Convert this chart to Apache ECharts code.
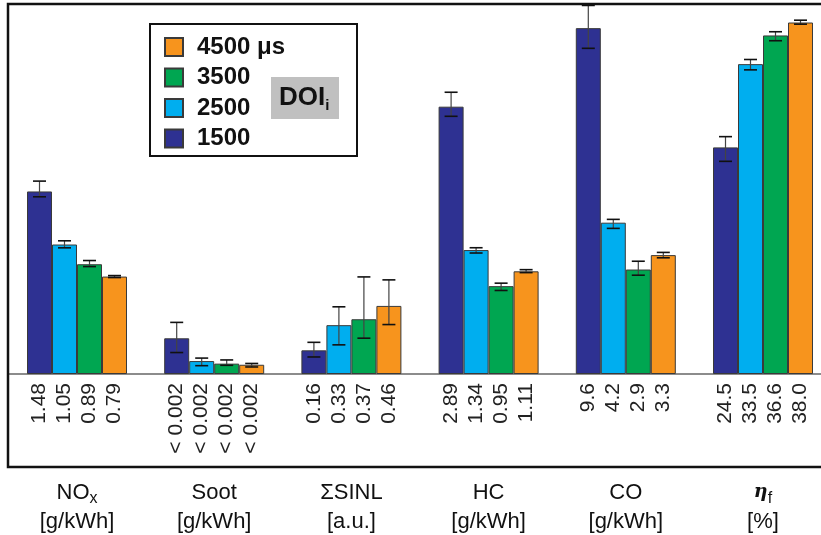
<!DOCTYPE html>
<html>
<head>
<meta charset="utf-8">
<script src="https://cdn.jsdelivr.net/npm/echarts@6/dist/echarts.min.js"></script>
<style>
  html, body { margin: 0; padding: 0; background: #fff; }
  #chart { width: 821px; height: 535px; }
</style>
</head>
<body>
<div id="chart"></div>
<script>
// groups on the x axis, each one has its own scale (value at top of plot)
const categories = ['NOx', 'Soot', 'SINL', 'HC', 'CO', 'eta'];
const groupScale = [3.0, 0.02, 2.5, 4.0, 10.27, 40];

// DOI series names (legend shown top to bottom in reverse)
const doiNames = ['1500', '2500', '3500', '4500 μs'];
const doiColours = ['#2e3192', '#00aeef', '#00a651', '#f7941d'];

// measured values per DOI
const doi1500 = [1.48, 0.00193, 0.16, 2.89, 9.6, 24.5];
const doi2500 = [1.05, 0.0007, 0.33, 1.34, 4.2, 33.5];
const doi3500 = [0.89, 0.00056, 0.37, 0.95, 2.9, 36.6];
const doi4500 = [0.79, 0.0005, 0.46, 1.11, 3.3, 38.0];

// printed value labels
const labels1500 = ['1.48', '< 0.002', '0.16', '2.89', '9.6', '24.5'];
const labels2500 = ['1.05', '< 0.002', '0.33', '1.34', '4.2', '33.5'];
const labels3500 = ['0.89', '< 0.002', '0.37', '0.95', '2.9', '36.6'];
const labels4500 = ['0.79', '< 0.002', '0.46', '1.11', '3.3', '38.0'];

// error bars, distance above / below the value
const err1500Up = [0.084, 0.00086, 0.054, 0.156, 0.63, 1.16];
const err1500Dn = [0.043, 0.00077, 0.045, 0.104, 0.56, 1.51];
const err2500Up = [0.03, 0.00016, 0.124, 0.025, 0.092, 0.5];
const err2500Dn = [0.027, 0.00025, 0.133, 0.032, 0.158, 0.62];
const err3500Up = [0.03, 0.0002, 0.286, 0.032, 0.23, 0.4];
const err3500Dn = [0.019, 0.00009, 0.128, 0.047, 0.158, 0.57];
const err4500Up = [0.008, 0.00007, 0.176, 0.018, 0.075, 0.25];
const err4500Dn = [0.008, 0.00012, 0.126, 0.014, 0.075, 0.18];

const values = [doi1500, doi2500, doi3500, doi4500];
const valueLabels = [labels1500, labels2500, labels3500, labels4500];
const errUp = [err1500Up, err2500Up, err3500Up, err4500Up];
const errDn = [err1500Dn, err2500Dn, err3500Dn, err4500Dn];

const FONT = '"Liberation Sans", Arial, Helvetica, sans-serif';
const BAR_W = 25;

const categoryText = {
    NOx: 'NO{sub|x}\n[g/kWh]',
    Soot: 'Soot\n[g/kWh]',
    SINL: 'ΣSINL\n[a.u.]',
    HC: 'HC\n[g/kWh]',
    CO: 'CO\n[g/kWh]',
    eta: '{eta|η}{sub|f}\n[%]'
};

const chart = echarts.init(document.getElementById('chart'));

const series = [];
values.forEach((vals, i) => {
    series.push({
        name: doiNames[i],
        type: 'bar',
        barWidth: BAR_W,
        barGap: '0%',
        data: vals.map((v, k) => v / groupScale[k]),
        itemStyle: { color: doiColours[i], borderColor: '#3a3a3a', borderWidth: 1 },
        label: {
            show: true,
            position: 'bottom',
            distance: 9,
            rotate: 90,
            align: 'right',
            verticalAlign: 'middle',
            fontFamily: FONT,
            fontSize: 21,
            color: '#222',
            formatter: (p) => valueLabels[i][p.dataIndex]
        },
        z: 2
    });
});

// error bars drawn on top of each bar
values.forEach((vals, i) => {
    const offset = (i - 1.5) * BAR_W;
    series.push({
        type: 'custom',
        name: doiNames[i] + ' err',
        z: 5,
        data: vals.map((v, k) => [k, (v - errDn[i][k]) / groupScale[k], (v + errUp[i][k]) / groupScale[k]]),
        encode: { x: 0, y: [1, 2] },
        renderItem: (params, api) => {
            const lo = api.coord([api.value(0), api.value(1)]);
            const hi = api.coord([api.value(0), api.value(2)]);
            const x = lo[0] + offset;
            const capW = 6.5;
            return {
                type: 'group',
                children: [
                    { type: 'line', shape: { x1: x, y1: hi[1], x2: x, y2: lo[1] }, style: { stroke: '#444', lineWidth: 1.2 } },
                    { type: 'line', shape: { x1: x - capW, y1: hi[1], x2: x + capW, y2: hi[1] }, style: { stroke: '#111', lineWidth: 1.6 } },
                    { type: 'line', shape: { x1: x - capW, y1: lo[1], x2: x + capW, y2: lo[1] }, style: { stroke: '#111', lineWidth: 1.6 } }
                ]
            };
        }
    });
});

const option = {
    animation: false,
    backgroundColor: '#fff',
    grid: { left: 8.4, width: 823.2, top: 4, height: 370, containLabel: false, outerBoundsMode: 'none' },
    xAxis: {
        type: 'category',
        data: categories,
        axisLine: { show: true, lineStyle: { color: '#8c8c8c', width: 2 } },
        axisTick: { show: false },
        axisLabel: {
            margin: 104,
            interval: 0,
            fontFamily: FONT,
            fontSize: 22,
            color: '#111',
            lineHeight: 29,
            formatter: (v) => categoryText[v],
            rich: {
                sub: { fontFamily: FONT, fontSize: 16, lineHeight: 22, verticalAlign: 'bottom', color: '#111' },
                eta: { fontFamily: 'DejaVu Serif, serif', fontSize: 19, fontStyle: 'italic', fontWeight: 'bold', color: '#111', lineHeight: 29 }
            }
        }
    },
    yAxis: { type: 'value', min: 0, max: 1, show: false },
    legend: {
        orient: 'vertical',
        left: 164,
        top: 35,
        padding: 0,
        itemWidth: 18,
        itemHeight: 18,
        itemGap: 6.5,
        icon: 'rect',
        data: ['4500 μs', '3500', '2500', '1500'],
        selectedMode: false,
        textStyle: { fontFamily: FONT, fontSize: 24, fontWeight: 'bold', color: '#111', padding: [0, 0, 0, 9] }
    },
    graphic: [
        // outer frame (left, top, bottom)
        { type: 'polyline', shape: { points: [[821, 4], [8, 4], [8, 467], [821, 467]] }, style: { stroke: '#111', lineWidth: 2.5, fill: null }, z: 10 },
        // legend box
        { type: 'rect', shape: { x: 150, y: 24, width: 207, height: 132 }, style: { stroke: '#111', lineWidth: 2, fill: null }, z: 10 },
        { type: 'rect', shape: { x: 271, y: 77, width: 68, height: 42 }, style: { fill: '#c0c0c0' }, z: 9 },
        {
            type: 'text', x: 279, y: 98, z: 11,
            style: {
                text: 'DOI{s|i}',
                fontFamily: FONT, fontSize: 26, fontWeight: 'bold', fill: '#111',
                verticalAlign: 'middle',
                rich: { s: { fontFamily: FONT, fontSize: 15, fontWeight: 'bold', fill: '#111', verticalAlign: 'bottom', lineHeight: 30 } }
            }
        }
    ],
    series: series
};

chart.setOption(option);
</script>
</body>
</html>
